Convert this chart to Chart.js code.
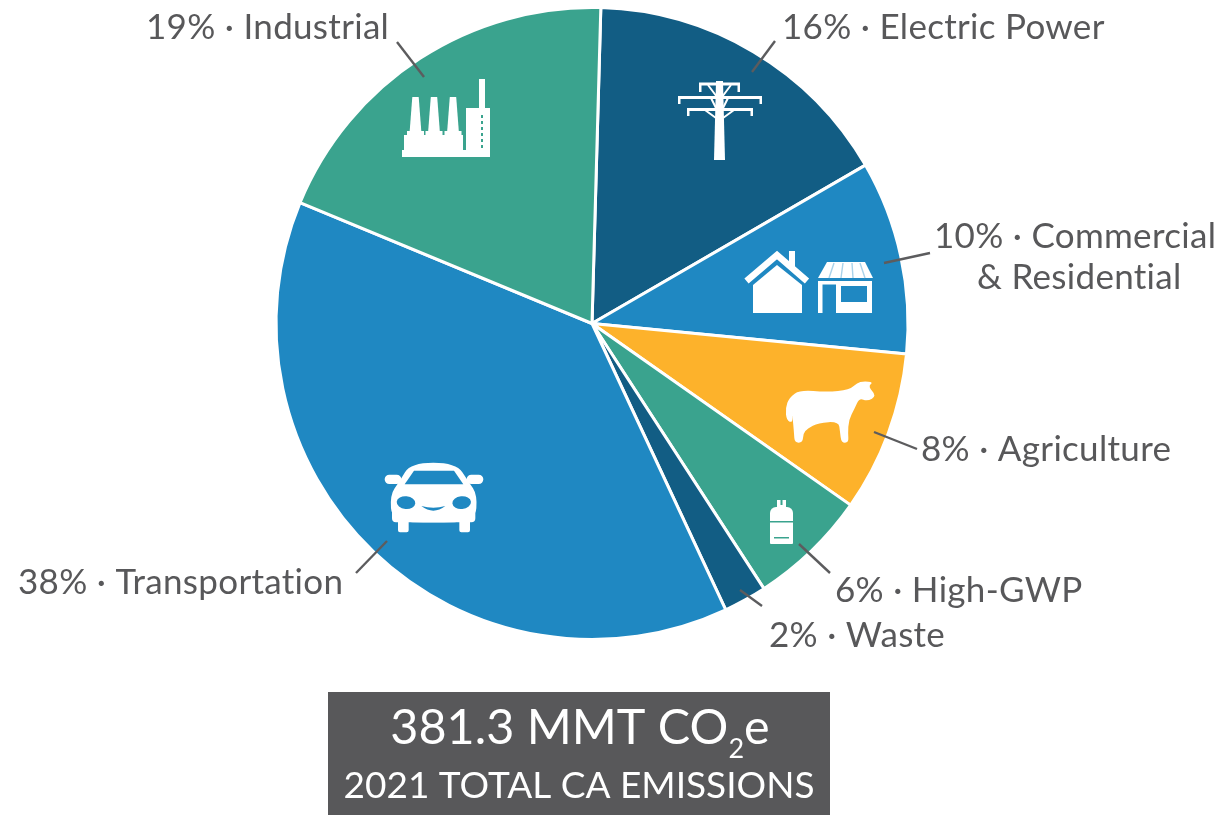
<!DOCTYPE html>
<html>
<head>
<meta charset="utf-8">
<title>2021 California emissions by sector</title>
<script src="https://cdn.jsdelivr.net/npm/chart.js@4/dist/chart.umd.js"></script>
<style>
  html, body { margin: 0; padding: 0; background: #fff; }
  canvas { display: block; filter: blur(0.6px); }
</style>
</head>
<body>
<canvas id="sectorChart" width="1224" height="815"></canvas>
<script>
// clockwise from the top, same order as the slices in the picture
const sectors = ['Electric Power', 'Commercial', 'Agriculture', 'High-GWP', 'Waste', 'Transportation', 'Industrial'];
const shareLabels = ['16%', '10%', '8%', '6%', '2%', '38%', '19%'];
// slice sizes, the printed shares are rounded
const shareValues = [16.2, 9.9, 8.2, 6.1, 2.2, 38.2, 19.2];
const totalValue = '381.3 MMT CO';
const totalCaption = '2021 TOTAL CA EMISSIONS';

const sliceColors = ['#125d84', '#1f88c2', '#fdb22b', '#3aa38e', '#125d84', '#1f88c2', '#3aa38e'];
const textColor = '#58585a';
const fontFamily = 'Lato, "Open Sans", sans-serif';

// left edge, vertical middle of each text, and the two ends of its leader line
const labelLayout = [
  { x: 782, y: 28, line: [[775, 41], [752, 72]] },
  { x: 934, y: 237, line: [[930, 253], [884, 263]], second: '& Residential', secondX: 977, secondY: 278 },
  { x: 921, y: 450, line: [[917, 449], [874, 432]] },
  { x: 835, y: 591, line: [[830, 573], [799, 544]] },
  { x: 769, y: 636, line: [[762, 606], [740, 590]] },
  { x: 18, y: 583, line: [[356, 573], [387, 541]] },
  { x: 146, y: 28, line: [[397, 42], [424, 77]] },
];

function smoothShape(ctx, pts) {
  ctx.beginPath();
  let last = pts[pts.length - 1];
  ctx.moveTo((last[0] + pts[0][0]) / 2, (last[1] + pts[0][1]) / 2);
  pts.forEach((p, i) => {
    const next = pts[(i + 1) % pts.length];
    ctx.quadraticCurveTo(p[0], p[1], (p[0] + next[0]) / 2, (p[1] + next[1]) / 2);
  });
  ctx.closePath();
  ctx.fill();
}

function polygon(ctx, pts) {
  ctx.beginPath();
  pts.forEach((p, i) => i ? ctx.lineTo(p[0], p[1]) : ctx.moveTo(p[0], p[1]));
  ctx.closePath();
  ctx.fill();
}

function drawFactory(ctx) {
  ctx.fillStyle = '#fff';
  [415.5, 434, 453].forEach(cx => {
    polygon(ctx, [[cx - 3.2, 97], [cx + 3.2, 97], [cx + 5.8, 131], [cx - 5.8, 131]]);
    ctx.fillRect(cx - 8.5, 131, 17, 4);
  });
  ctx.fillRect(404, 135, 59, 16);
  ctx.fillRect(402, 150, 88, 7);
  ctx.fillRect(466, 108, 24, 44);
  ctx.fillRect(479, 79, 6, 30);
  ctx.fillStyle = '#3aa38e';
  for (let y = 115; y < 148; y += 6) ctx.fillRect(481, y, 2, 3);
}

function drawTower(ctx) {
  ctx.fillStyle = '#fff';
  polygon(ctx, [[716, 81], [723, 81], [725, 160], [714, 160]]);
  ctx.fillRect(699, 82.5, 41, 3);
  ctx.fillRect(699, 83, 2.5, 9);
  ctx.fillRect(737.5, 83, 2.5, 9);
  ctx.fillRect(678, 96, 84, 3);
  ctx.fillRect(678, 96, 2.5, 8);
  ctx.fillRect(759.5, 96, 2.5, 8);
  ctx.fillRect(687, 108, 66, 3);
  ctx.fillRect(687, 108, 2.5, 8);
  ctx.fillRect(750.5, 108, 2.5, 8);
  ctx.strokeStyle = '#fff';
  ctx.lineWidth = 2;
  ctx.beginPath();
  [[708, 85, 717, 97], [731, 85, 722, 97], [711, 98, 717, 110], [728, 98, 722, 110], [705, 110, 716, 118], [734, 110, 723, 118]]
    .forEach(s => { ctx.moveTo(s[0], s[1]); ctx.lineTo(s[2], s[3]); });
  ctx.stroke();
}

function drawHouse(ctx) {
  ctx.fillStyle = '#fff';
  polygon(ctx, [[777, 265], [802, 285], [802, 313], [753, 313], [753, 285]]);
  ctx.fillRect(789, 251, 6, 16);
  ctx.strokeStyle = '#fff';
  ctx.lineWidth = 6.5;
  ctx.lineCap = 'butt';
  ctx.beginPath();
  ctx.moveTo(746.5, 281);
  ctx.lineTo(777, 255);
  ctx.lineTo(807, 281);
  ctx.stroke();
}

function drawShop(ctx) {
  ctx.fillStyle = '#fff';
  polygon(ctx, [[827, 262], [865, 262], [873, 278], [818, 278]]);
  ctx.fillRect(818, 281, 54, 3.5);
  ctx.fillRect(818, 281, 4.5, 32);
  ctx.fillRect(836, 281, 36, 32);
  ctx.fillStyle = '#1f88c2';
  ctx.fillRect(841, 286, 26, 16);
  ctx.strokeStyle = '#a9d2ea';
  ctx.lineWidth = 1.4;
  ctx.beginPath();
  [[834, 829], [843, 841], [852, 853], [860, 865]].forEach(s => {
    ctx.moveTo(s[0], 263);
    ctx.lineTo(s[1], 278);
  });
  ctx.stroke();
}

function drawCow(ctx) {
  ctx.save();
  ctx.translate(750, 370);
  ctx.scale(1 / 3, 1 / 3);
  ctx.fillStyle = '#fff';
  smoothShape(ctx, [[118, 82], [150, 60], [230, 66], [298, 60], [322, 38], [340, 34], [370, 36], [354, 50], [380, 78], [352, 94], [328, 84],
    [314, 115], [296, 150], [294, 190], [296, 218], [274, 218], [270, 185], [266, 155], [205, 158], [172, 176], [160, 190], [158, 218], [134, 218], [132, 190], [130, 165], [126, 128], [128, 158], [110, 152], [106, 115]]);
  ctx.restore();
}

function drawCylinder(ctx) {
  ctx.fillStyle = '#fff';
  ctx.fillRect(777, 500, 9, 9);
  ctx.beginPath();
  ctx.roundRect(770, 507, 23, 37, [6, 6, 1, 1]);
  ctx.fill();
  ctx.fillStyle = '#3aa38e';
  ctx.fillRect(770, 521, 23, 1.5);
  ctx.fillRect(774, 537, 15, 1.5);
  ctx.fillRect(780.5, 500, 2, 5);
}

function drawCar(ctx) {
  ctx.save();
  ctx.translate(370, 450);
  ctx.scale(1 / 3, 1 / 3);
  ctx.fillStyle = '#fff';
  // body, wheels, mirrors
  smoothShape(ctx, [[122, 38], [258, 38], [296, 95], [322, 135], [316, 215], [190, 218], [66, 215], [60, 135], [88, 95]]);
  ctx.beginPath();
  ctx.roundRect(66, 165, 250, 52, 12);
  ctx.roundRect(84, 195, 32, 52, 6);
  ctx.roundRect(268, 195, 32, 52, 6);
  ctx.roundRect(44, 74, 50, 28, 14);
  ctx.roundRect(290, 74, 50, 28, 14);
  ctx.fill();
  ctx.fillStyle = '#1f88c2';
  polygon(ctx, [[104, 103], [132, 62], [252, 62], [280, 103]]);
  ctx.beginPath();
  ctx.ellipse(108, 158, 28, 19, 0.1, 0, Math.PI * 2);
  ctx.ellipse(275, 158, 28, 19, -0.1, 0, Math.PI * 2);
  ctx.fill();
  ctx.beginPath();
  ctx.moveTo(154, 168);
  ctx.quadraticCurveTo(190, 178, 226, 168);
  ctx.quadraticCurveTo(190, 196, 154, 168);
  ctx.fill();
  ctx.restore();
}

const sectorIcons = [drawTower, drawHouse, drawShop, drawCow, drawCylinder, drawCar, drawFactory];

const annotationPlugin = {
  id: 'annotations',
  afterDraw(chart) {
    const ctx = chart.ctx;
    ctx.save();

    sectorIcons.forEach(draw => { ctx.save(); draw(ctx); ctx.restore(); });

    // leader lines and labels
    ctx.textBaseline = 'middle';
    ctx.textAlign = 'left';
    ctx.font = '35px ' + fontFamily;
    ctx.letterSpacing = '0.3px';
    labelLayout.forEach((item, i) => {
      ctx.strokeStyle = '#5c5c5e';
      ctx.lineWidth = 2.4;
      ctx.beginPath();
      ctx.moveTo(item.line[0][0], item.line[0][1]);
      ctx.lineTo(item.line[1][0], item.line[1][1]);
      ctx.stroke();

      ctx.fillStyle = textColor;
      ctx.fillText(shareLabels[i] + ' · ' + sectors[i], item.x, item.y);
      if (item.second) ctx.fillText(item.second, item.secondX, item.secondY);
    });
    ctx.letterSpacing = '0px';

    // total box at the bottom
    ctx.fillStyle = '#58585a';
    ctx.fillRect(328, 692, 502, 123);
    ctx.fillStyle = '#fff';
    ctx.font = '48.5px ' + fontFamily;
    const head = ctx.measureText(totalValue).width;
    const tail = ctx.measureText('e').width;
    ctx.font = '27px ' + fontFamily;
    const sub = ctx.measureText('2').width;
    let x = 580 - (head + sub + tail) / 2;
    ctx.font = '48.5px ' + fontFamily;
    ctx.fillText(totalValue, x, 728);
    ctx.fillText('e', x + head + sub, 728);
    ctx.font = '27px ' + fontFamily;
    ctx.fillText('2', x + head, 749);
    ctx.font = '37px ' + fontFamily;
    ctx.textAlign = 'center';
    ctx.fillText(totalCaption, 579, 786);

    ctx.restore();
  }
};

new Chart(document.getElementById('sectorChart').getContext('2d'), {
  type: 'pie',
  data: {
    labels: sectors,
    datasets: [{
      data: shareValues,
      backgroundColor: sliceColors,
      borderColor: '#ffffff',
      borderWidth: 3,
      hoverOffset: 0
    }]
  },
  options: {
    responsive: false,
    animation: false,
    rotation: 1.6,
    layout: { padding: { left: 274.5, right: 314.5, top: 6, bottom: 174 } },
    plugins: {
      legend: { display: false },
      tooltip: { enabled: false }
    }
  },
  plugins: [annotationPlugin]
});
</script>
</body>
</html>
